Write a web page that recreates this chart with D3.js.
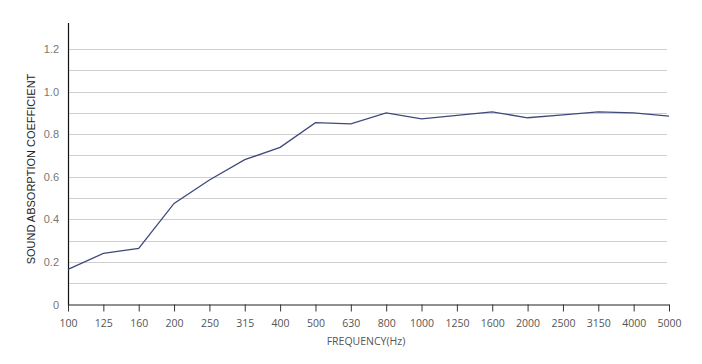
<!DOCTYPE html>
<html>
<head>
<meta charset="utf-8">
<script src="https://cdn.jsdelivr.net/npm/d3@7"></script>
<style>
  body { margin: 0; background: #fff; }
  svg { display: block; }
</style>
</head>
<body>
<svg id="svg" width="702" height="364"></svg>
<script>
// frequency bands (Hz) and measured absorption coefficients
const frequencies = ['100', '125', '160', '200', '250', '315', '400', '500', '630', '800',
  '1000', '1250', '1600', '2000', '2500', '3150', '4000', '5000'];
const absorption = [0.165, 0.24, 0.264, 0.475, 0.585, 0.68, 0.738, 0.854, 0.848, 0.90,
  0.872, 0.888, 0.905, 0.877, 0.891, 0.905, 0.90, 0.885];
const yTicks = [0, 0.2, 0.4, 0.6, 0.8, 1.0, 1.2];
const gridValues = d3.range(1, 13).map(d => d / 10);

const svg = d3.select('#svg');
const plot = {left: 68, right: 669, top: 23, bottom: 304.5};

const xScale = d3.scalePoint()
  .domain(frequencies)
  .range([plot.left, plot.right]);

const yScale = d3.scaleLinear()
  .domain([0, 1.2])
  .range([plot.bottom, 49]);

// light horizontal grid every 0.1
svg.append('g')
  .selectAll('line')
  .data(gridValues)
  .enter()
  .append('line')
  .attr('x1', plot.left)
  .attr('x2', plot.right - 2)
  .attr('y1', d => Math.round(yScale(d)) + 0.5)
  .attr('y2', d => Math.round(yScale(d)) + 0.5)
  .attr('stroke', '#cfcfcf')
  .attr('stroke-width', 1);

// y axis
const yAxis = svg.append('g')
  .attr('transform', `translate(${plot.left},0)`)
  .call(d3.axisLeft(yScale).tickValues(yTicks).tickSize(0).tickPadding(9)
    .tickFormat(d => d === 0 ? '0' : d3.format('.1f')(d)));
yAxis.select('.domain').remove();
yAxis.selectAll('text')
  .attr('font-family', '"Liberation Sans", Arial, sans-serif')
  .attr('font-size', 11)
  .attr('fill', '#777');
svg.append('line')
  .attr('x1', plot.left + 0.5).attr('x2', plot.left + 0.5)
  .attr('y1', plot.top).attr('y2', plot.bottom + 1)
  .attr('stroke', '#111').attr('stroke-width', 1.2);

// x axis
const xAxis = svg.append('g')
  .attr('transform', `translate(0,${plot.bottom})`)
  .call(d3.axisBottom(xScale).tickSizeInner(7).tickSizeOuter(0).tickPadding(8));
xAxis.select('.domain').attr('stroke', '#222').attr('stroke-width', 1.2);
xAxis.selectAll('.tick line').attr('stroke', '#333');
xAxis.selectAll('text')
  .attr('font-family', '"Open Sans", sans-serif')
  .attr('font-size', 10.5)
  .attr('fill', '#555');

// data line
const line = d3.line()
  .x((d, i) => xScale(frequencies[i]))
  .y(d => yScale(d));

svg.append('path')
  .datum(absorption)
  .attr('d', line)
  .attr('fill', 'none')
  .attr('stroke', '#3f4a7c')
  .attr('stroke-width', 1.3);

// axis titles
svg.append('text')
  .attr('transform', 'translate(35,169) rotate(-90)')
  .attr('text-anchor', 'middle')
  .attr('font-family', '"Liberation Sans", Arial, sans-serif')
  .attr('font-size', 11)
  .attr('fill', '#222')
  .text('SOUND ABSORPTION COEFFICIENT');

svg.append('text')
  .attr('x', 366)
  .attr('y', 345)
  .attr('text-anchor', 'middle')
  .attr('font-family', '"Open Sans", sans-serif')
  .attr('font-size', 10.5)
  .attr('fill', '#555')
  .text('FREQUENCY(Hz)');
</script>
</body>
</html>
